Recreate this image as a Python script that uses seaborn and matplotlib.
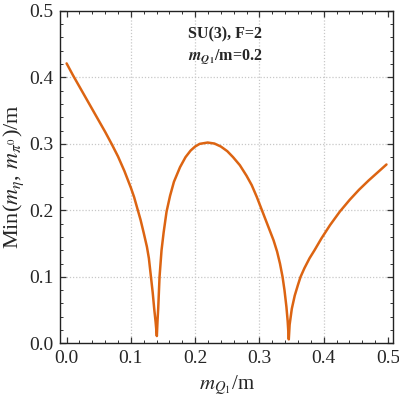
import seaborn as sns
import matplotlib.pyplot as plt
import pandas as pd
from matplotlib.ticker import MultipleLocator

# values
mq = [0.000, 0.010, 0.020, 0.030, 0.040, 0.050, 0.060, 0.070, 0.080, 0.090,
      0.100, 0.105, 0.110, 0.115, 0.120, 0.125, 0.128, 0.131, 0.134, 0.1363,
      0.1385, 0.1404,
      0.1415, 0.1425, 0.1446, 0.1477, 0.151, 0.1555, 0.161, 0.167, 0.1765,
      0.185, 0.193, 0.200, 0.207, 0.2195, 0.230, 0.240, 0.250, 0.259, 0.2695,
      0.280, 0.288, 0.296, 0.304, 0.310, 0.316, 0.322, 0.3275, 0.332, 0.336,
      0.339, 0.342, 0.344, 0.3457,
      0.347, 0.3504, 0.355, 0.360, 0.364, 0.370, 0.378, 0.3857, 0.3966, 0.410,
      0.425, 0.4406, 0.455, 0.470, 0.485, 0.4977]
mmin = [0.421, 0.403, 0.386, 0.369, 0.352, 0.335, 0.318, 0.300, 0.281, 0.259,
        0.234, 0.220, 0.203, 0.186, 0.166, 0.145, 0.128, 0.102, 0.076, 0.052,
        0.032, 0.011,
        0.035, 0.052, 0.100, 0.140, 0.167, 0.198, 0.222, 0.243, 0.265,
        0.280, 0.290, 0.296, 0.300, 0.302, 0.3005, 0.296, 0.289, 0.280, 0.268,
        0.252, 0.238, 0.220, 0.200, 0.185, 0.170, 0.155, 0.138, 0.120, 0.100,
        0.080, 0.055, 0.033, 0.006,
        0.028, 0.052, 0.072, 0.088, 0.100, 0.113, 0.128, 0.140, 0.158, 0.178,
        0.198, 0.216, 0.231, 0.245, 0.258, 0.269]
grid_x = [0.1, 0.2, 0.3, 0.4]
grid_y = [0.1, 0.2, 0.3, 0.4]

df = pd.DataFrame({'mq': mq, 'mmin': mmin})

sns.set_style('ticks')
plt.rcParams['font.family'] = ['Liberation Serif', 'DejaVu Serif']
plt.rcParams['mathtext.fontset'] = 'stix'

fig = plt.figure(figsize=(3.99, 4.03), dpi=100)
ax = fig.add_axes([0.151, 0.148, 0.835, 0.825])

for g in grid_x:
    ax.axvline(g, color='#c8c8c8', lw=0.9, ls=(0, (1, 1.5)), zorder=0)
for g in grid_y:
    ax.axhline(g, color='#c8c8c8', lw=0.9, ls=(0, (1, 1.5)), zorder=0)

sns.lineplot(data=df, x='mq', y='mmin', ax=ax, color='#dc6412', lw=1.8,
             estimator=None, sort=False)

ax.set_xlim(-0.0099, 0.5085)
ax.set_ylim(0, 0.5)
ax.xaxis.set_major_locator(MultipleLocator(0.1))
ax.xaxis.set_minor_locator(MultipleLocator(0.02))
ax.yaxis.set_major_locator(MultipleLocator(0.1))
ax.yaxis.set_minor_locator(MultipleLocator(0.02))
ax.tick_params(which='both', direction='in', top=True, right=True,
               labelsize=14, color='#333333')
ax.tick_params(which='major', length=4, width=0.9, pad=5)
ax.tick_params(which='minor', length=2.5, width=0.7)
for s in ax.spines.values():
    s.set_linewidth(1.0)
    s.set_color('#222222')

ax.set_xlabel(r'$m_{Q_1}$/m', fontsize=15, labelpad=4)
ax.set_ylabel(r'Min($m_{\eta}$, $m_{\pi^0}$)/m', fontsize=16, labelpad=2)

ax.text(0.246, 0.465, 'SU(3), F=2', ha='center', va='center',
        fontsize=11.5, fontweight='bold')
ax.text(0.246, 0.431, r'$\mathbfit{m}_{\mathbfit{Q}_\mathbf{1}}$/m=0.2',
        ha='center', va='center', fontsize=11.5, fontweight='bold')

plt.savefig('out.png', dpi=100)
